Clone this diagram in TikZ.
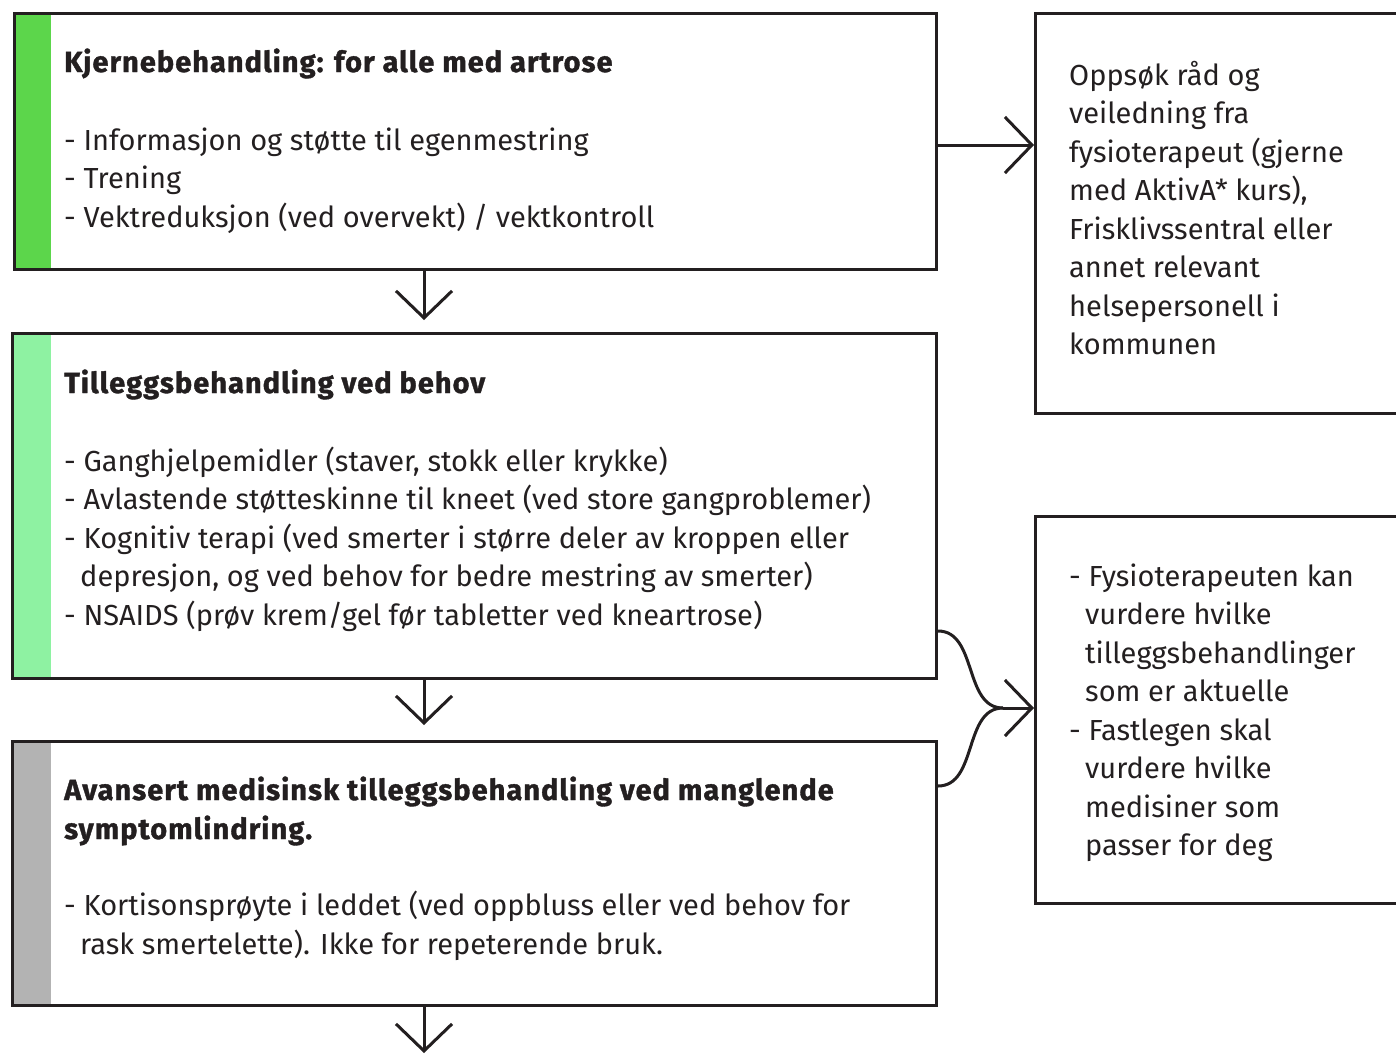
\documentclass[tikz,border=0pt]{standalone}
\usepackage{fontspec}
\setmainfont{Fira Sans}[BoldFeatures={FakeBold=1.2, LetterSpace=3.5}]
\usetikzlibrary{arrows.meta,calc}
\definecolor{ink}{HTML}{231F20}
\definecolor{barA}{HTML}{5CD64B}
\definecolor{barB}{HTML}{8EF2A2}
\definecolor{barC}{HTML}{B3B3B3}
\tikzset{
  box/.style={draw=ink, line width=3pt, rectangle, anchor=north west, inner sep=0pt},
  txt/.style={anchor=base west, inner sep=0pt, text=ink, font=\fontsize{29}{38}\selectfont},
  ttl/.style={txt, font=\fontsize{29}{38}\selectfont\bfseries},
  conn/.style={draw=ink, line width=3pt},
  arr/.style={conn, -{Straight Barb[length=27pt, width=56pt, line width=3pt]}}
}
\begin{document}
\begin{tikzpicture}[x=1pt, y=-1pt]
\useasboundingbox (0,0) rectangle (1396,1053);
\clip (0,0) rectangle (1396,1053);
% colour bars
\fill[barA] (13,12) rectangle (51,268);
\fill[barB] (11,332) rectangle (51,677);
\fill[barC] (11,740) rectangle (51,1004);
% boxes
\node[box, minimum width=922pt, minimum height=256pt] (b1) at (13,12) {};
\node[box, minimum width=924pt, minimum height=345pt] (b2) at (11,332) {};
\node[box, minimum width=924pt, minimum height=264pt] (b3) at (11,740) {};
\node[box, minimum width=400pt, minimum height=400pt] (r1) at (1034,12) {};
\node[box, minimum width=400pt, minimum height=387pt] (r2) at (1034,515) {};
% texts box 1
\node[ttl] (t1) at (64,72) {Kjernebehandling: for alle med artrose};
\node[txt] (t1a) at (64,150) {- Informasjon og støtte til egenmestring};
\node[txt] (t1b) at (64,188.5) {- Trening};
\node[txt] (t1c) at (64,227) {- Vektreduksjon (ved overvekt) / vektkontroll};
% texts box 2
\node[ttl] (t2) at (64,393) {Tilleggsbehandling ved behov};
\node[txt] (t2a) at (64,471) {- Ganghjelpemidler (staver, stokk eller krykke)};
\node[txt] (t2b) at (64,509.5) {- Avlastende støtteskinne til kneet (ved store gangproblemer)};
\node[txt] (t2c) at (64,548) {- Kognitiv terapi (ved smerter i større deler av kroppen eller};
\node[txt] (t2d) at (80,586.5) {depresjon, og ved behov for bedre mestring av smerter)};
\node[txt] (t2e) at (64,625) {- NSAIDS (prøv krem/gel før tabletter ved kneartrose)};
% texts box 3
\node[ttl] (t3) at (64,800) {Avansert medisinsk tilleggsbehandling ved manglende};
\node[ttl] (t3b) at (64,839) {symptomlindring.};
\node[txt] (t3c) at (64,915) {- Kortisonsprøyte i leddet (ved oppbluss eller ved behov for};
\node[txt] (t3d) at (80,954) {rask smertelette). Ikke for repeterende bruk.};
% right box 1
\node[txt] (u1) at (1069,85) {Oppsøk råd og};
\node[txt] (u2) at (1069,123.5) {veiledning fra};
\node[txt] (u3) at (1069,162) {fysioterapeut (gjerne};
\node[txt] (u4) at (1069,200.5) {med AktivA* kurs),};
\node[txt] (u5) at (1069,239) {Frisklivssentral eller};
\node[txt] (u6) at (1069,277.5) {annet relevant};
\node[txt] (u7) at (1069,316) {helsepersonell i};
\node[txt] (u8) at (1069,354.5) {kommunen};
% right box 2
\node[txt] (v1) at (1069,586) {- Fysioterapeuten kan};
\node[txt] (v2) at (1085,624.5) {vurdere hvilke};
\node[txt] (v3) at (1085,663) {tilleggsbehandlinger};
\node[txt] (v4) at (1085,701.5) {som er aktuelle};
\node[txt] (v5) at (1069,740) {- Fastlegen skal};
\node[txt] (v6) at (1085,778.5) {vurdere hvilke};
\node[txt] (v7) at (1085,817) {medisiner som};
\node[txt] (v8) at (1085,855.5) {passer for deg};
% connectors
\coordinate (ax) at (424,0);
\coordinate (bot) at (424,1053);
\coordinate (y145) at (0,145);
\coordinate (y631) at (0,631);
\coordinate (y786) at (0,786);
\coordinate (m) at (1003,708);
\draw[arr, shorten >=12pt] (b1.south -| ax) -- (b2.north -| ax);
\draw[arr, shorten >=15pt] (b2.south -| ax) -- (b3.north -| ax);
\draw[arr] (b3.south -| ax) -- (bot);
\draw[arr] (b1.east |- y145) -- (r1.west |- y145);
\draw[conn] (b2.east |- y631) to[out=0, in=180] (m);
\draw[conn] (b3.east |- y786) to[out=0, in=180] (m);
\draw[arr] (m) -- (r2.west |- m);
\end{tikzpicture}
\end{document}
